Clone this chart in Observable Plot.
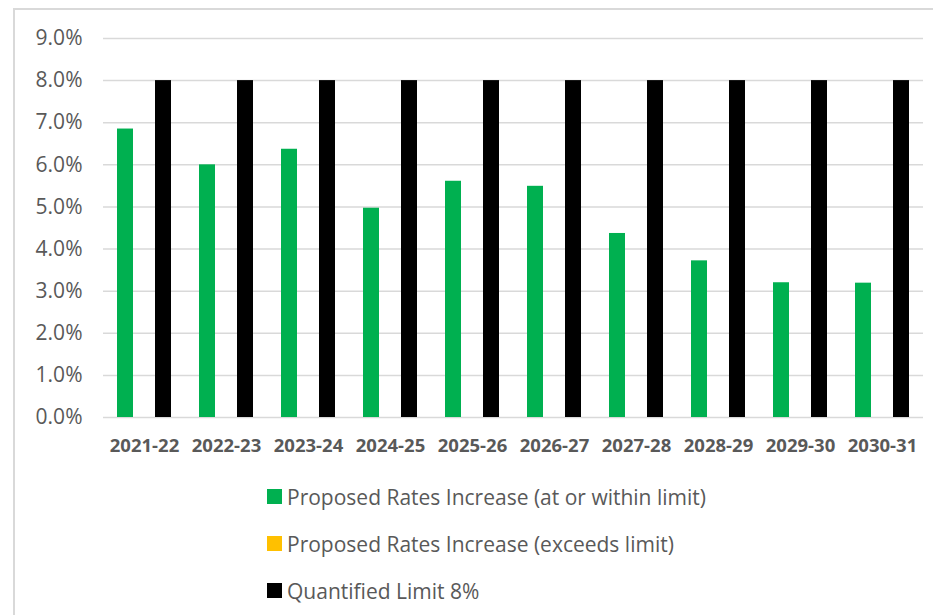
<!DOCTYPE html>
<html>
<head>
<meta charset="utf-8">
<script src="https://cdn.jsdelivr.net/npm/d3@7"></script>
<script src="https://cdn.jsdelivr.net/npm/@observablehq/plot@0.6"></script>
<style>
  html, body { margin: 0; padding: 0; background: #fff; width: 933px; height: 615px; overflow: hidden; position: relative; }
  #frame { position: absolute; left: 13px; top: 8px; width: 940px; height: 620px; border-top: 2px solid #d9d9d9; border-left: 2px solid #d9d9d9; box-sizing: border-box; }
  #chart { position: absolute; left: 0; top: 0; }
  #legend { position: absolute; left: 267px; top: 473px; font-family: "Open Sans", sans-serif; font-size: 21px; color: #595959; }
  .item { display: flex; align-items: center; height: 47px; }
  .sw { width: 15px; height: 15px; margin-right: 5px; }
</style>
</head>
<body>
<div id="frame"></div>
<div id="chart"></div>
<div id="legend"></div>
<script>
const years = ["2021-22","2022-23","2023-24","2024-25","2025-26","2026-27","2027-28","2028-29","2029-30","2030-31"];
const withinLimit = [6.85, 6.00, 6.37, 4.97, 5.61, 5.49, 4.37, 3.72, 3.20, 3.19];
const exceedsLimit = [0, 0, 0, 0, 0, 0, 0, 0, 0, 0];
const quantifiedLimit = [8, 8, 8, 8, 8, 8, 8, 8, 8, 8];
const seriesNames = ["Proposed Rates Increase (at or within limit)", "Proposed Rates Increase (exceeds limit)", "Quantified Limit 8%"];
const seriesColors = ["#00B050", "#FFC000", "#000000"];
const yTicks = [0, 1, 2, 3, 4, 5, 6, 7, 8, 9];

const seriesValues = [withinLimit, exceedsLimit, quantifiedLimit];
const data = years.flatMap((year, i) => seriesNames.map((s, k) => ({year, series: s, value: seriesValues[k][i]})));

const chart = Plot.plot({
  width: 933,
  height: 470,
  marginLeft: 101,
  marginRight: 9,
  marginTop: 38,
  marginBottom: 53,
  style: {fontFamily: "Open Sans, sans-serif", background: "transparent", color: "#595959"},
  fx: {domain: years, padding: 0, label: null},
  x: {domain: seriesNames, paddingInner: 0.135, paddingOuter: 0.72, axis: null},
  y: {domain: [0, 9], label: null},
  color: {domain: seriesNames, range: seriesColors},
  marks: [
    Plot.ruleY(yTicks, {stroke: "#d9d9d9", strokeWidth: 1.5}),
    Plot.barY(data, {fx: "year", x: "series", y: "value", fill: "series"}),
    Plot.axisY({ticks: yTicks, tickFormat: d => d.toFixed(1) + "%", tickSize: 0, tickPadding: 21, fontSize: 21, fill: "#595959", label: null}),
    Plot.axisFx({anchor: "bottom", tickSize: 0, tickPadding: 21, fontSize: 18.5, fontWeight: "bold", fill: "#595959", label: null})
  ]
});
document.getElementById("chart").appendChild(chart);

const legend = document.getElementById("legend");
seriesNames.forEach((name, k) => {
  const item = document.createElement("div");
  item.className = "item";
  const sw = document.createElement("div");
  sw.className = "sw";
  sw.style.background = seriesColors[k];
  const label = document.createElement("span");
  label.textContent = name;
  item.appendChild(sw);
  item.appendChild(label);
  legend.appendChild(item);
});
</script>
</body>
</html>
